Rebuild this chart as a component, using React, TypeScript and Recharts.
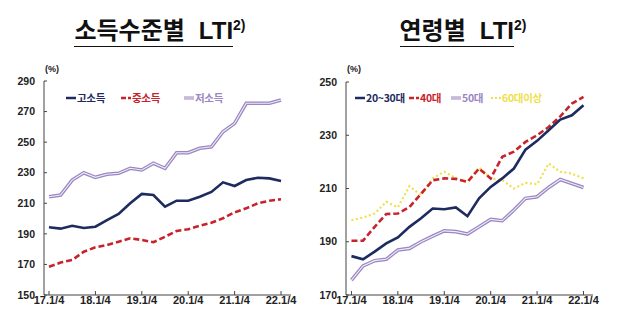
import React from 'react';
import { LineChart, Line, XAxis, YAxis } from 'recharts';

const quarters = [
  '17.1/4', '17.2/4', '17.3/4', '17.4/4',
  '18.1/4', '18.2/4', '18.3/4', '18.4/4',
  '19.1/4', '19.2/4', '19.3/4', '19.4/4',
  '20.1/4', '20.2/4', '20.3/4', '20.4/4',
  '21.1/4', '21.2/4', '21.3/4', '21.4/4',
  '22.1/4',
];
const xTicks = [0, 4, 8, 12, 16, 20];

const incomeHigh = [194.3, 193.4, 195.3, 193.8, 194.7, 199, 203, 210, 216.1, 215.4, 207.8, 211.7, 211.7, 214.3, 217.4, 223.7, 221.3, 225.2, 226.7, 226.3, 224.6];
const incomeMid = [168.5, 171.2, 172.9, 178.3, 181.2, 182.7, 184.9, 187.1, 186, 184.5, 188.1, 191.9, 193, 195.3, 197.3, 200.2, 204.1, 206.7, 210, 211.7, 212.6];
const incomeLow = [214.3, 215.4, 225.2, 230, 227, 229, 229.6, 232.9, 231.8, 236.2, 232.9, 243.1, 243.1, 246, 247, 256.8, 262.3, 275.4, 275.4, 275.4, 277.6];

const age2030 = [184.6, 183.4, 186.3, 189.4, 191.6, 195.6, 198.8, 202.5, 202.2, 202.9, 199.6, 206.3, 210.6, 213.8, 217.5, 224.6, 227.9, 231.9, 235.9, 237.5, 241.3];
const age40 = [190.4, 190.4, 195.6, 200.4, 200.6, 203, 208, 213.1, 213.8, 213.6, 212.5, 217.5, 213.8, 221.9, 223.8, 227.5, 230, 233.1, 237.1, 241.9, 244.4];
const age50 = [175.6, 180.9, 182.9, 183.4, 186.9, 187.5, 190, 192.1, 194.1, 193.8, 192.9, 195.6, 198.4, 197.9, 201.9, 206.3, 206.9, 210.4, 213.4, 211.9, 210.4];
const age60 = [198.1, 199.1, 200.6, 205, 202.9, 210.9, 207.5, 213.8, 216.3, 213.8, 212.5, 217.9, 213.8, 213.1, 210, 212.1, 211.6, 219.4, 216.3, 215.6, 213.8];

const leftTicks = [150, 170, 190, 210, 230, 250, 270, 290];
const rightTicks = [170, 190, 210, 230, 250];

const NAVY = '#1d2b5e';
const RED = '#c8232c';
const PURPLE = '#9a86c2';
const PURPLE_IN = '#f1ecf7';
const YELLOW = '#efe04a';

const incomeData = quarters.map((q, i) => ({ i, high: incomeHigh[i], mid: incomeMid[i], low: incomeLow[i] }));
const ageData = quarters.map((q, i) => ({ i, a2030: age2030[i], a40: age40[i], a50: age50[i], a60: age60[i] }));

const tickFont = { fontSize: 11, fontWeight: 700, fill: '#222', fontFamily: "'Liberation Sans', Arial, sans-serif" };
const yTickFont = { fontSize: 10.5, fontWeight: 700, fill: '#222', fontFamily: "'Liberation Sans', Arial, sans-serif" };
const KFONT = "'Noto Sans CJK KR', 'Noto Sans', sans-serif";

type LegendItem = { label: string; color: string; kind: 'solid' | 'dash' | 'double' | 'dot'; left: number };

const leftLegend: LegendItem[] = [
  { label: '고소득', color: NAVY, kind: 'solid', left: 66 },
  { label: '중소득', color: RED, kind: 'dash', left: 121 },
  { label: '저소득', color: PURPLE, kind: 'double', left: 184 },
];
const rightLegend: LegendItem[] = [
  { label: '20~30대', color: NAVY, kind: 'solid', left: 355 },
  { label: '40대', color: RED, kind: 'dash', left: 409 },
  { label: '50대', color: PURPLE, kind: 'double', left: 451 },
  { label: '60대이상', color: YELLOW, kind: 'dot', left: 491 },
];

function Sample({ item }: { item: LegendItem }) {
  const w = 10;
  return (
    <svg width={w} height={10} style={{ display: 'inline-block', verticalAlign: 'middle', marginRight: 1 }}>
      {item.kind === 'solid' && <line x1={0} y1={5} x2={w} y2={5} stroke={item.color} strokeWidth={2.5} />}
      {item.kind === 'dash' && <line x1={0} y1={5} x2={w} y2={5} stroke={item.color} strokeWidth={2.5} strokeDasharray="5 2" />}
      {item.kind === 'double' && (
        <>
          <line x1={0} y1={5} x2={w} y2={5} stroke={item.color} strokeWidth={3} />
          <line x1={0} y1={5} x2={w} y2={5} stroke={PURPLE_IN} strokeWidth={1} />
        </>
      )}
      {item.kind === 'dot' && <line x1={0} y1={5} x2={w} y2={5} stroke={item.color} strokeWidth={2} strokeDasharray="2 2" />}
    </svg>
  );
}

function LegendRow({ items }: { items: LegendItem[] }) {
  return (
    <>
      {items.map((it) => (
        <div
          key={it.label}
          style={{
            position: 'absolute',
            left: it.left,
            top: 90,
            height: 14,
            lineHeight: '14px',
            whiteSpace: 'nowrap',
            fontFamily: KFONT,
            fontWeight: 700,
            fontSize: 10.5,
            letterSpacing: -0.3,
            color: it.color,
          }}
        >
          <Sample item={it} />
          <span style={{ verticalAlign: 'middle' }}>{it.label}</span>
        </div>
      ))}
    </>
  );
}

function Title({ text, center, width }: { text: string; center: number; width: number }) {
  return (
    <div
      style={{
        position: 'absolute',
        left: center - width / 2,
        width,
        top: 12,
        textAlign: 'center',
        whiteSpace: 'nowrap',
        fontFamily: KFONT,
        fontWeight: 700,
        fontSize: 24,
        lineHeight: '27px',
        color: '#111',
      }}
    >
      <span style={{ borderBottom: '1.5px solid #111', paddingBottom: 0 }}>
        {text}
        <span style={{ display: 'inline-block', width: 14 }} />
        <span style={{ fontFamily: "'Liberation Sans Narrow', 'Liberation Sans', Arial, sans-serif", fontSize: 24 }}>LTI</span>
      </span>
      <sup style={{ fontFamily: "'Liberation Sans', Arial, sans-serif", fontSize: 14, fontWeight: 700, verticalAlign: 9 }}>2)</sup>
    </div>
  );
}

const pctStyle: React.CSSProperties = {
  position: 'absolute',
  top: 64,
  fontFamily: "'Liberation Sans', Arial, sans-serif",
  fontSize: 9,
  fontWeight: 700,
  color: '#222',
};

export default function App() {
  return (
    <div style={{ position: 'fixed', left: 0, top: 0, width: 620, height: 322, background: '#fff', overflow: 'hidden' }}>
      <Title text="소득수준별" center={160} width={230} />
      <Title text="연령별" center={463} width={190} />

      <div style={{ position: 'absolute', left: 0, top: 0 }}>
        <LineChart width={310} height={322} data={incomeData} margin={{ top: 81, right: 19, bottom: 0, left: 4 }}>
          <XAxis
            dataKey="i"
            type="number"
            domain={[-0.43, 20.86]}
            ticks={xTicks}
            interval={0}
            tickFormatter={(v: number) => quarters[v]}
            height={27}
            tickSize={-4}
            tickMargin={5}
            tick={tickFont}
            axisLine={{ stroke: '#444', strokeWidth: 1 }}
            tickLine={{ stroke: '#444' }}
            allowDataOverflow
          />
          <XAxis xAxisId="top" orientation="top" dataKey="i" type="number" domain={[-0.43, 20.86]} height={0} tick={false} tickLine={false} axisLine={{ stroke: '#666' }} />
          <YAxis
            domain={[150, 290]}
            ticks={leftTicks}
            interval={0}
            width={40}
            tickSize={-3}
            tickMargin={12}
            tick={yTickFont}
            axisLine={{ stroke: '#444' }}
            tickLine={{ stroke: '#444' }}
            allowDataOverflow
          />
          <YAxis yAxisId="r" orientation="right" domain={[150, 290]} width={0} tick={false} tickLine={false} axisLine={{ stroke: '#666' }} />
          <Line dataKey="low" stroke={PURPLE} strokeWidth={3.6} dot={false} isAnimationActive={false} />
          <Line dataKey="low" stroke={PURPLE_IN} strokeWidth={1.1} dot={false} isAnimationActive={false} legendType="none" />
          <Line dataKey="mid" stroke={RED} strokeWidth={2.6} strokeDasharray="6 3" dot={false} isAnimationActive={false} />
          <Line dataKey="high" stroke={NAVY} strokeWidth={2.6} dot={false} isAnimationActive={false} />
        </LineChart>
      </div>

      <div style={{ position: 'absolute', left: 302, top: 0 }}>
        <LineChart width={310} height={322} data={ageData} margin={{ top: 82, right: 19, bottom: 0, left: 4 }}>
          <XAxis
            dataKey="i"
            type="number"
            domain={[-0.47, 20.82]}
            ticks={xTicks}
            interval={0}
            tickFormatter={(v: number) => quarters[v]}
            height={27}
            tickSize={-4}
            tickMargin={5}
            tick={tickFont}
            axisLine={{ stroke: '#444', strokeWidth: 1 }}
            tickLine={{ stroke: '#444' }}
            allowDataOverflow
          />
          <XAxis xAxisId="top" orientation="top" dataKey="i" type="number" domain={[-0.47, 20.82]} height={0} tick={false} tickLine={false} axisLine={{ stroke: '#666' }} />
          <YAxis
            domain={[170, 250]}
            ticks={rightTicks}
            interval={0}
            width={40}
            tickSize={-3}
            tickMargin={12}
            tick={yTickFont}
            axisLine={{ stroke: '#444' }}
            tickLine={{ stroke: '#444' }}
            allowDataOverflow
          />
          <YAxis yAxisId="r" orientation="right" domain={[170, 250]} width={0} tick={false} tickLine={false} axisLine={{ stroke: '#666' }} />
          <Line dataKey="a60" stroke={YELLOW} strokeWidth={2.2} strokeDasharray="2 2.5" dot={false} isAnimationActive={false} />
          <Line dataKey="a50" stroke={PURPLE} strokeWidth={3.6} dot={false} isAnimationActive={false} />
          <Line dataKey="a50" stroke={PURPLE_IN} strokeWidth={1.1} dot={false} isAnimationActive={false} legendType="none" />
          <Line dataKey="a40" stroke={RED} strokeWidth={2.6} strokeDasharray="6 3" dot={false} isAnimationActive={false} />
          <Line dataKey="a2030" stroke={NAVY} strokeWidth={2.6} dot={false} isAnimationActive={false} />
        </LineChart>
      </div>

      <LegendRow items={leftLegend} />
      <LegendRow items={rightLegend} />

      <div style={{ ...pctStyle, left: 45 }}>(%)</div>
      <div style={{ ...pctStyle, left: 347 }}>(%)</div>
    </div>
  );
}
